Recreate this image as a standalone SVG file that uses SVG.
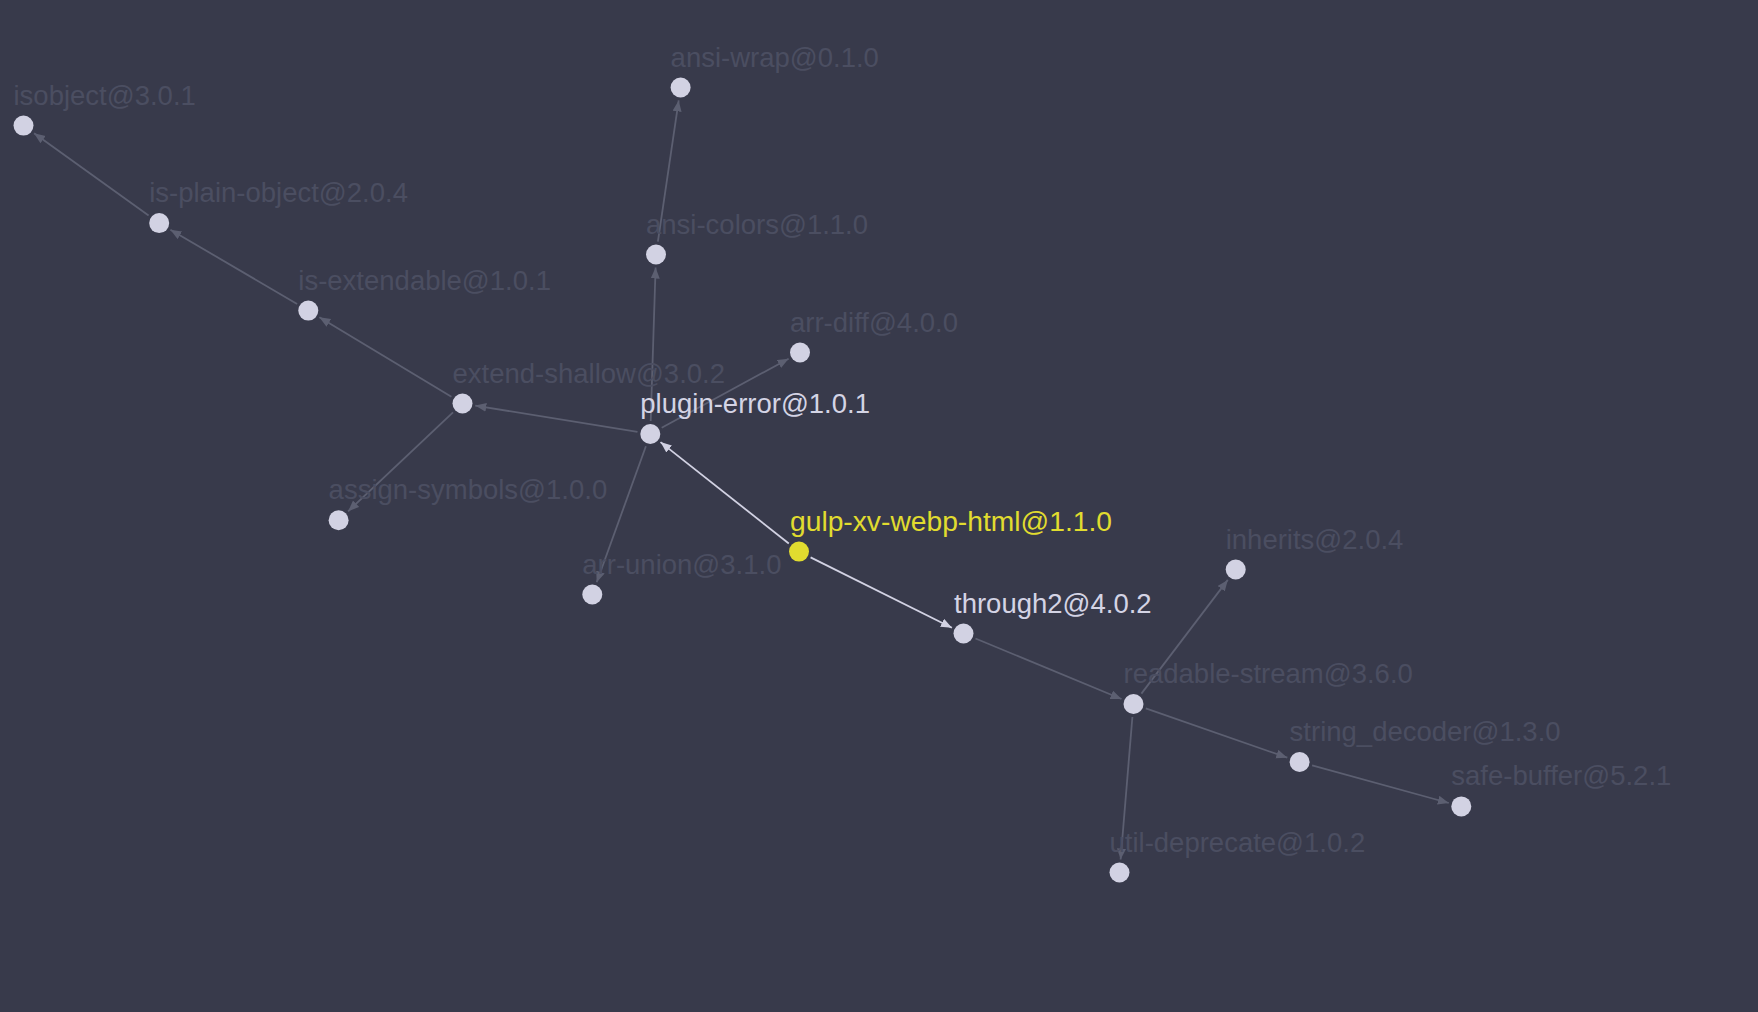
<svg xmlns="http://www.w3.org/2000/svg" width="1758" height="1012" viewBox="0 0 1758 1012">
<defs>
<style>
.n{fill:#d2d2e3}
.root{fill:#e1dc2f}
.lbl{font-family:"Liberation Sans",Arial,sans-serif;font-size:27.5px;fill:#4b4e61}
.hi{fill:#d4d4e5}
.rootl{fill:#e1dc2f}
.e{stroke:#5c5f71;stroke-width:1.8;fill:none;marker-end:url(#ad)}
.eb{stroke:#d2d2e3;stroke-width:1.8;fill:none;marker-end:url(#ab)}
</style>
<marker id="ad" markerUnits="userSpaceOnUse" markerWidth="12" markerHeight="10" refX="11" refY="4.5" orient="auto"><path d="M0,0 L11,4.5 L0,9 z" fill="#5c5f71"/></marker>
<marker id="ab" markerUnits="userSpaceOnUse" markerWidth="12" markerHeight="10" refX="11" refY="4.5" orient="auto"><path d="M0,0 L11,4.5 L0,9 z" fill="#d2d2e3"/></marker>
</defs>
<rect width="1758" height="1012" fill="#383a4b"/>
<g id="edges">
<line class="e" x1="637.5" y1="431.9" x2="475.3" y2="405.6"/>
<line class="e" x1="650.7" y1="421.0" x2="655.6" y2="267.5"/>
<line class="e" x1="661.7" y1="427.8" x2="788.6" y2="358.7"/>
<line class="e" x1="645.9" y1="446.2" x2="596.7" y2="582.3"/>
<line class="e" x1="451.4" y1="396.8" x2="319.4" y2="317.3"/>
<line class="e" x1="453.0" y1="412.4" x2="348.1" y2="511.3"/>
<line class="e" x1="297.1" y1="304.0" x2="170.4" y2="229.7"/>
<line class="e" x1="148.6" y1="215.5" x2="34.1" y2="133.2"/>
<line class="e" x1="657.9" y1="241.6" x2="678.7" y2="100.4"/>
<line class="eb" x1="788.8" y1="543.5" x2="660.5" y2="442.1"/>
<line class="eb" x1="810.6" y1="557.4" x2="951.9" y2="627.7"/>
<line class="e" x1="975.5" y1="638.5" x2="1121.5" y2="699.0"/>
<line class="e" x1="1141.4" y1="693.6" x2="1227.8" y2="579.9"/>
<line class="e" x1="1145.8" y1="708.3" x2="1287.3" y2="757.7"/>
<line class="e" x1="1132.4" y1="717.0" x2="1120.6" y2="859.5"/>
<line class="e" x1="1312.1" y1="765.4" x2="1448.8" y2="803.0"/>
</g>
<g id="isobject"><circle class="n" cx="23.5" cy="125.6" r="10"/><text class="lbl" x="13.5" y="104.6">isobject@3.0.1</text></g>
<g id="is-plain-object"><circle class="n" cx="159.2" cy="223.1" r="10"/><text class="lbl" x="149.2" y="202.1">is-plain-object@2.0.4</text></g>
<g id="is-extendable"><circle class="n" cx="308.3" cy="310.6" r="10"/><text class="lbl" x="298.3" y="289.6">is-extendable@1.0.1</text></g>
<g id="extend-shallow"><circle class="n" cx="462.5" cy="403.5" r="10"/><text class="lbl" x="452.5" y="382.5">extend-shallow@3.0.2</text></g>
<g id="assign-symbols"><circle class="n" cx="338.6" cy="520.2" r="10"/><text class="lbl" x="328.6" y="499.2">assign-symbols@1.0.0</text></g>
<g id="ansi-colors"><circle class="n" cx="656" cy="254.5" r="10"/><text class="lbl" x="646" y="233.5">ansi-colors@1.1.0</text></g>
<g id="ansi-wrap"><circle class="n" cx="680.6" cy="87.5" r="10"/><text class="lbl" x="670.6" y="66.5">ansi-wrap@0.1.0</text></g>
<g id="arr-diff"><circle class="n" cx="800" cy="352.5" r="10"/><text class="lbl" x="790" y="331.5">arr-diff@4.0.0</text></g>
<g id="arr-union"><circle class="n" cx="592.3" cy="594.5" r="10"/><text class="lbl" x="582.3" y="573.5">arr-union@3.1.0</text></g>
<g id="plugin-error"><circle class="n" cx="650.3" cy="434" r="10"/><text class="lbl hi" x="640.3" y="413">plugin-error@1.0.1</text></g>
<g id="gulp-xv-webp-html"><circle class="root" cx="799" cy="551.6" r="10"/><text class="lbl rootl" x="790" y="530.6" textLength="322" lengthAdjust="spacingAndGlyphs">gulp-xv-webp-html@1.1.0</text></g>
<g id="through2"><circle class="n" cx="963.5" cy="633.5" r="10"/><text class="lbl hi" x="954" y="612.5">through2@4.0.2</text></g>
<g id="readable-stream"><circle class="n" cx="1133.5" cy="704" r="10"/><text class="lbl" x="1123.5" y="683">readable-stream@3.6.0</text></g>
<g id="inherits"><circle class="n" cx="1235.7" cy="569.5" r="10"/><text class="lbl" x="1225.7" y="548.5">inherits@2.0.4</text></g>
<g id="string_decoder"><circle class="n" cx="1299.6" cy="762" r="10"/><text class="lbl" x="1289.6" y="741">string_decoder@1.3.0</text></g>
<g id="safe-buffer"><circle class="n" cx="1461.3" cy="806.4" r="10"/><text class="lbl" x="1451.3" y="785.4">safe-buffer@5.2.1</text></g>
<g id="util-deprecate"><circle class="n" cx="1119.5" cy="872.5" r="10"/><text class="lbl" x="1109.5" y="851.5">util-deprecate@1.0.2</text></g>
</svg>
